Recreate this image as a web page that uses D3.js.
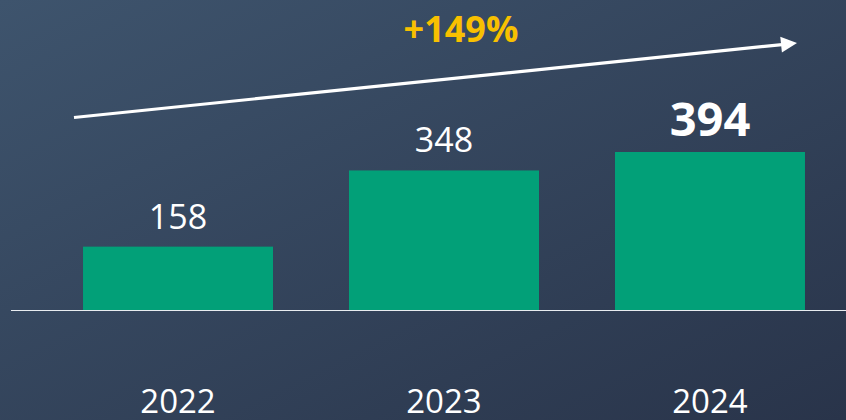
<!DOCTYPE html>
<meta charset="utf-8">
<title>Growth 2022-2024</title>
<style>
  html, body { margin: 0; padding: 0; }
  body { width: 846px; height: 420px; overflow: hidden; font-family: "Segoe UI", "Open Sans", sans-serif; }
  .val { fill: #ffffff; text-anchor: middle; }
  .year { fill: #ffffff; text-anchor: middle; font-size: 33px; }
</style>
<body>
<script src="https://cdn.jsdelivr.net/npm/d3@7"></script>
<script>
  var years = ["2022", "2023", "2024"];
  var values = [158, 348, 394];
  var growthLabel = "+149%";

  var width = 846, height = 420, baseY = 310;

  var svg = d3.select("body").append("svg")
      .attr("width", width)
      .attr("height", height);

  var defs = svg.append("defs");
  var grad = defs.append("linearGradient")
      .attr("id", "bg")
      .attr("x1", "0%").attr("y1", "0%")
      .attr("x2", "100%").attr("y2", "100%");
  grad.append("stop").attr("offset", "0%").attr("stop-color", "#3e546d");
  grad.append("stop").attr("offset", "100%").attr("stop-color", "#29344a");

  svg.append("rect")
      .attr("width", width).attr("height", height)
      .attr("fill", "url(#bg)");

  var x = d3.scaleBand()
      .domain(years)
      .range([45, 843])
      .paddingInner(0.2857)
      .paddingOuter(0.1429);

  var y = d3.scaleLinear()
      .domain([0, 394])
      .range([baseY, 152]);

  var data = years.map(function(d, i) { return { year: d, value: values[i] }; });

  svg.selectAll("rect.bar")
      .data(data)
    .enter().append("rect")
      .attr("class", "bar")
      .attr("x", function(d) { return x(d.year); })
      .attr("y", function(d) { return y(d.value); })
      .attr("width", x.bandwidth())
      .attr("height", function(d) { return baseY - y(d.value); })
      .attr("fill", "#02a078");

  // baseline
  svg.append("line")
      .attr("x1", 11).attr("x2", width)
      .attr("y1", baseY + 0.5).attr("y2", baseY + 0.5)
      .attr("stroke", "#e8ecf0")
      .attr("stroke-width", 1.2);

  // value labels
  svg.selectAll("text.val")
      .data(data)
    .enter().append("text")
      .attr("class", "val")
      .attr("x", function(d) { return x(d.year) + x.bandwidth() / 2; })
      .attr("y", function(d, i) { return y(d.value) - (i === 2 ? 16 : 18); })
      .style("font-size", function(d, i) { return i === 2 ? "47px" : "34px"; })
      .style("font-weight", function(d, i) { return i === 2 ? "bold" : "normal"; })
      .text(function(d) { return d.value; });

  // year labels
  svg.selectAll("text.year")
      .data(data)
    .enter().append("text")
      .attr("class", "year")
      .attr("x", function(d) { return x(d.year) + x.bandwidth() / 2; })
      .attr("y", 413)
      .text(function(d) { return d.year; });

  // growth arrow
  var x0 = 74, y0 = 117.5, x1 = 797, y1 = 43;
  var ang = Math.atan2(y1 - y0, x1 - x0);
  var headLen = 16, headW = 8;
  var bx = x1 - headLen * Math.cos(ang), by = y1 - headLen * Math.sin(ang);
  svg.append("line")
      .attr("x1", x0).attr("y1", y0)
      .attr("x2", bx + Math.cos(ang)).attr("y2", by + Math.sin(ang))
      .attr("stroke", "#ffffff")
      .attr("stroke-width", 3.2);
  svg.append("path")
      .attr("d", "M" + x1 + "," + y1 +
        "L" + (bx - headW * Math.sin(ang)) + "," + (by + headW * Math.cos(ang)) +
        "L" + (bx + headW * Math.sin(ang)) + "," + (by - headW * Math.cos(ang)) + "Z")
      .attr("fill", "#ffffff");

  svg.append("text")
      .attr("x", 461)
      .attr("y", 42)
      .attr("text-anchor", "middle")
      .style("font-size", "36px")
      .style("font-weight", "bold")
      .attr("fill", "#f8c000")
      .text(growthLabel);
</script>
</body>
